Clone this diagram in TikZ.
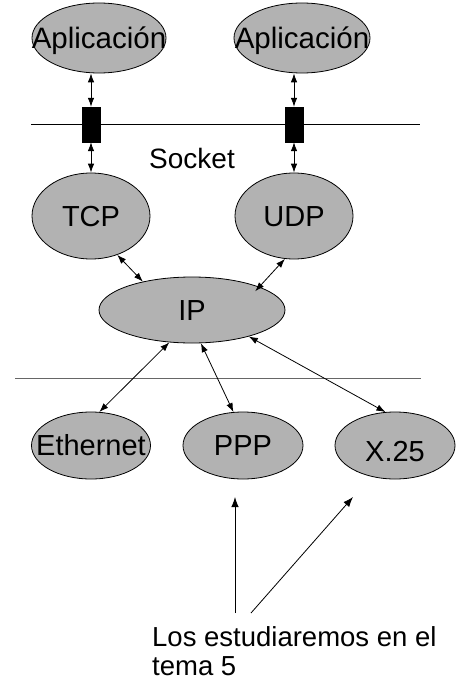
\documentclass[tikz,border=0pt]{standalone}
\usepackage{fontspec}
\setmainfont{Liberation Sans}
\usetikzlibrary{shapes.geometric,arrows.meta}

\tikzset{
  proto/.style={ellipse, draw=black, line width=0.8pt, fill=black!30, inner sep=0pt},
  protolabel/.style={font=\fontsize{29}{32}\selectfont, text height=20.8pt, text depth=0pt, inner sep=0pt},
  sockbox/.style={rectangle, fill=black, draw=black, inner sep=0pt,
    minimum width=18pt, minimum height=35pt},
  link/.style={line width=0.8pt, {Latex[length=9pt,width=6.5pt]}-{Latex[length=9pt,width=6.5pt]}},
  pointer/.style={line width=0.8pt, -{Latex[length=10pt,width=7.5pt]}},
  layerline/.style={line width=0.8pt},
}

\begin{document}
\begin{tikzpicture}[x=1pt, y=-1pt]
  \useasboundingbox (0,0) rectangle (459,682);

  % application layer
  \node[proto, minimum width=134pt, minimum height=70pt,
    label={[protolabel, font=\fontsize{29.5}{32}\selectfont]center:Aplicación}] (app1) at (99,38) {};
  \node[proto, minimum width=136pt, minimum height=70pt,
    label={[protolabel, font=\fontsize{29.5}{32}\selectfont]center:Aplicación}] (app2) at (302,38) {};

  % socket boundary
  \coordinate (sockL) at (31,124);
  \coordinate (sockR) at (420,124);
  \draw[layerline] (sockL) -- (sockR);
  \node[sockbox] (sock1) at (91,124.5) {};
  \node[sockbox] (sock2) at (294,124.5) {};
  \node[font=\fontsize{28}{30}\selectfont, text height=20pt, text depth=0pt, inner sep=0pt]
    (socklabel) at (192,158) {Socket};

  % transport layer
  \node[proto, minimum width=118pt, minimum height=86pt, label={[protolabel]center:TCP}] (tcp) at (91,216) {};
  \node[proto, minimum width=118pt, minimum height=86pt, label={[protolabel]center:UDP}] (udp) at (294,216) {};

  % network layer
  \node[proto, minimum width=186pt, minimum height=66pt, label={[protolabel]center:IP}] (ip) at (192,310) {};

  % link layer boundary
  \coordinate (linkL) at (15,378);
  \coordinate (linkR) at (421,378);
  \draw[layerline, draw=black!60] (linkL) -- (linkR);

  % link layer
  \node[proto, minimum width=119pt, minimum height=67pt, label={[protolabel]center:Ethernet}] (eth) at (91,445.5) {};
  \node[proto, minimum width=120pt, minimum height=67pt, label={[protolabel]center:PPP}] (ppp) at (243,445.5) {};
  \node[proto, minimum width=120pt, minimum height=67pt, label={[protolabel, yshift=-6pt]center:X.25}] (x25) at (395,445.5) {};

  % socket links
  \draw[link] (sock1.north) -- (sock1.north |- app1.south);
  \draw[link] (sock2.north) -- (sock2.north |- app2.south);
  \draw[link] (sock1.south) -- (sock1.south |- tcp.north);
  \draw[link] (sock2.south) -- (sock2.south |- udp.north);

  % transport to network
  \draw[link] (tcp.-56) -- (ip.150);
  \draw[link, shorten >=-6pt] (udp.-102) -- (ip.19);

  % network to link
  \draw[link] (ip.-125) -- (eth.76);
  \draw[link] (ip.-75) -- (ppp.106);
  \draw[link] (ip.-25) -- (x25.106);

  % note
  \node[anchor=north west, align=left, inner sep=0pt,
    font=\fontsize{27.5}{28.5}\selectfont] (note) at (152,626.5)
    {Los estudiaremos en el\\tema 5};
  \coordinate (p0) at (235,613);
  \coordinate (p1) at (235,497);
  \coordinate (q0) at (251,613);
  \coordinate (q1) at (353,497);
  \draw[pointer] (p0) -- (p1);
  \draw[pointer] (q0) -- (q1);
\end{tikzpicture}
\end{document}
